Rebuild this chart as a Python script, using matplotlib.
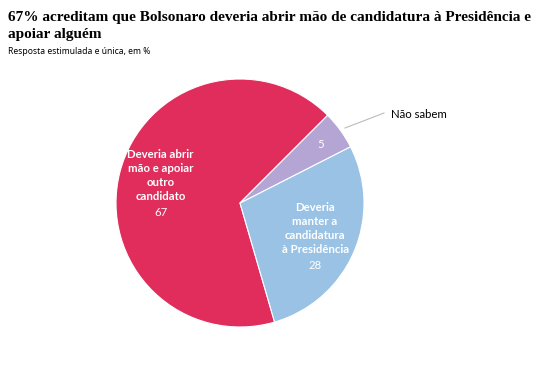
import matplotlib.pyplot as plt
import numpy as np

# data
categories = ["Deveria abrir\nmão e apoiar\noutro\ncandidato",
              "Deveria\nmanter a\ncandidatura\nà Presidência",
              "Não sabem"]
values = [67, 28, 5]
colors = ["#e02d5c", "#99c2e5", "#b4a5d4"]

title = ("67% acreditam que Bolsonaro deveria abrir mão de candidatura à Presidência e\n"
         "apoiar alguém")
subtitle = "Resposta estimulada e única, em %"

W, H = 559, 371
fig = plt.figure(figsize=(W / 100, H / 100), dpi=100)
ax = fig.add_axes([0, 0, 1, 1])

cx, cy, r = 240, H - 203, 124
start = 45
wedges, _ = ax.pie(values, colors=colors, startangle=start, center=(cx, cy),
                   radius=r, frame=True,
                   wedgeprops=dict(edgecolor="white", linewidth=0.8))
ax.set_xlim(0, W)
ax.set_ylim(0, H)
ax.axis("off")

sans = ["Lato", "DejaVu Sans"]
for i, w in enumerate(wedges):
    mid = np.deg2rad((w.theta1 + w.theta2) / 2)
    if values[i] >= 10:
        d = 0.66
        x, y = cx + d * r * np.cos(mid), cy + d * r * np.sin(mid)
        ax.text(x, y + 7, categories[i], ha="center", va="center", color="white",
                fontsize=8.2, fontweight="bold", family=sans, linespacing=1.35)
        ax.text(x, y - 30, str(values[i]), ha="center", va="center", color="white",
                fontsize=8.2, family=sans)
    else:
        d = 0.8
        x, y = cx + d * r * np.cos(mid), cy + d * r * np.sin(mid)
        ax.text(x, y, str(values[i]), ha="center", va="center", color="white",
                fontsize=8.2, family=sans)
        # leader line to outside label
        ax.plot([345, 384], [H - 128, H - 113], color="#bbbbbb", lw=0.8)
        ax.text(391, H - 114, categories[i], ha="left", va="center", color="black",
                fontsize=8.2, family=sans)

fig.text(8 / W, 1 - 11 / H, title, ha="left", va="top", fontsize=11,
         fontweight="bold", family="Liberation Serif", linespacing=1.4)
fig.text(8 / W, 1 - 47 / H, subtitle, ha="left", va="top", fontsize=6.2,
         family="Noto Sans")

fig.savefig("out.png", dpi=100)
